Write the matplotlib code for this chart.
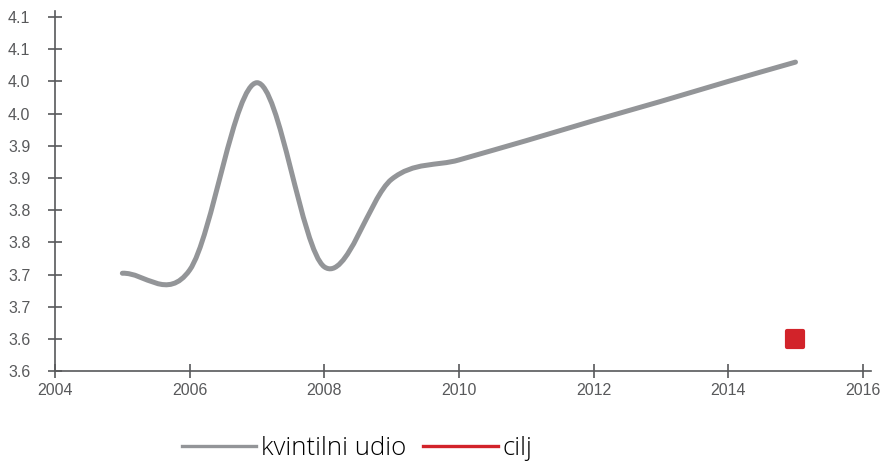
import numpy as np
import matplotlib
matplotlib.use('Agg')
import matplotlib.pyplot as plt
from matplotlib.path import Path
from matplotlib.patches import PathPatch
from matplotlib.lines import Line2D
from matplotlib.markers import MarkerStyle

# data
years = [2005, 2006, 2007, 2008, 2009, 2010, 2011, 2012, 2013, 2014, 2015]
kvintilni_udio = [3.702, 3.707, 3.998, 3.712, 3.848, 3.878, 3.908, 3.939, 3.969, 4.000, 4.030]
cilj_years = [2015]
cilj = [3.60]

yticks = [3.55, 3.60, 3.65, 3.70, 3.75, 3.80, 3.85, 3.90, 3.95, 4.00, 4.05, 4.10]
ytick_labels = ['3.6', '3.6', '3.7', '3.7', '3.8', '3.8', '3.9', '3.9', '4.0', '4.0', '4.1', '4.1']
xticks = [2004, 2006, 2008, 2010, 2012, 2014, 2016]

GRAY = '#939598'
RED = '#d2232a'
AXC = '#58595b'

plt.rcParams['font.family'] = ['Liberation Sans', 'DejaVu Sans']

fig = plt.figure(figsize=(8.82, 4.61), dpi=100)
ax = fig.add_axes([0.0624, 0.195, 0.925, 0.782])


# smooth line through the points (cardinal spline drawn as bezier segments)
def spline_path(x, y):
    x = np.asarray(x, float)
    y = np.asarray(y, float)
    n = len(x)
    m = np.zeros(n)
    for i in range(n):
        if i == 0:
            m[i] = (y[1] - y[0]) / (x[1] - x[0])
        elif i == n - 1:
            m[i] = (y[-1] - y[-2]) / (x[-1] - x[-2])
        else:
            m[i] = (y[i + 1] - y[i - 1]) / (x[i + 1] - x[i - 1])
    verts = [(x[0], y[0])]
    codes = [Path.MOVETO]
    for i in range(n - 1):
        h = x[i + 1] - x[i]
        verts += [(x[i] + h / 3, y[i] + m[i] * h / 3),
                  (x[i + 1] - h / 3, y[i + 1] - m[i + 1] * h / 3),
                  (x[i + 1], y[i + 1])]
        codes += [Path.CURVE4] * 3
    return Path(verts, codes)


ax.add_patch(PathPatch(spline_path(years, kvintilni_udio), fill=False,
                       edgecolor=GRAY, lw=3.6, capstyle='round', joinstyle='round'))

ax.plot(cilj_years, cilj, linestyle='none',
        marker=MarkerStyle('s', joinstyle='round'), ms=11.5, mew=3,
        mfc=RED, mec=RED)

ax.set_xlim(2004, 2016.12)
ax.set_ylim(3.55, 4.11)
ax.set_xticks(xticks)
ax.set_yticks(yticks)
ax.set_yticklabels(ytick_labels)

for s in ['top', 'right']:
    ax.spines[s].set_visible(False)
for s in ['left', 'bottom']:
    ax.spines[s].set_color(AXC)
    ax.spines[s].set_linewidth(1.2)

ax.tick_params(axis='both', direction='inout', length=9.5, width=1.2,
               color=AXC, labelcolor=AXC, labelsize=11.5)
ax.tick_params(axis='y', pad=13)
ax.tick_params(axis='x', pad=4)

handles = [Line2D([], [], color=GRAY, lw=2.4),
           Line2D([], [], color=RED, lw=2.4)]
leg = fig.legend(handles, ['kvintilni udio', 'cilj'], loc='center',
                 bbox_to_anchor=(0.405, 0.028), ncol=2, frameon=False,
                 handlelength=2.9, handletextpad=0.2, columnspacing=0.65,
                 prop={'family': 'Open Sans', 'weight': 'light', 'size': 18.5})

fig.savefig('out.png', dpi=100)
